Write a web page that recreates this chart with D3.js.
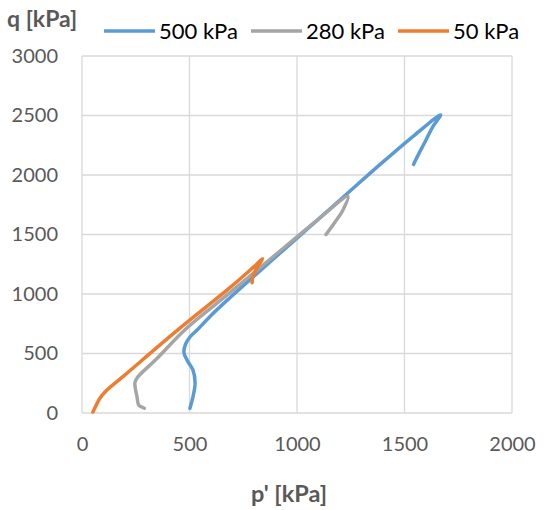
<!DOCTYPE html>
<html><head><meta charset="utf-8">
<script src="https://cdn.jsdelivr.net/npm/d3@7"></script>
<style>body{margin:0;background:#fff}svg{display:block}text{font-family:Lato,"Open Sans",sans-serif}</style>
</head><body><svg id="c" width="547" height="510"></svg>
<script>
const seriesNames = ["500 kPa", "280 kPa", "50 kPa"];
const seriesColors = ["#5B9BD5", "#A5A5A5", "#ED7D31"];
const p500 = [502, 516, 526, 516, 490, 474, 482, 505, 540, 600, 688, 800, 1000, 1200, 1400, 1550, 1668, 1630, 1597, 1565, 1542];
const q500 = [40, 135, 253, 362, 440, 510, 580, 645, 705, 820, 969, 1150, 1470, 1790, 2110, 2340, 2505, 2401, 2283, 2173, 2089];
const p280 = [290, 278, 264, 256, 246, 256, 350, 479, 688, 900, 1100, 1237, 1212, 1177, 1135];
const q280 = [40, 50, 65, 135, 253, 295, 460, 700, 1011, 1330, 1630, 1820, 1700, 1605, 1500];
const p50 = [51, 84, 107, 200, 447, 688, 800, 840, 814, 795, 791];
const q50 = [8, 126, 177, 320, 700, 1053, 1230, 1295, 1222, 1146, 1095];
const xTicks = [0, 500, 1000, 1500, 2000];
const yTicks = [0, 500, 1000, 1500, 2000, 2500, 3000];

const svg = d3.select("#c");
const x = d3.scaleLinear().domain([0, 2000]).range([82, 512]);
const y = d3.scaleLinear().domain([0, 3000]).range([413, 56]);

svg.append("g").selectAll("line").data(yTicks).join("line")
  .attr("x1", x(0)).attr("x2", x(2000)).attr("y1", d => y(d)).attr("y2", d => y(d))
  .attr("stroke", "#D9D9D9").attr("stroke-width", 1.3);
svg.append("g").selectAll("line").data(xTicks).join("line")
  .attr("y1", y(0)).attr("y2", y(3000)).attr("x1", d => x(d)).attr("x2", d => x(d))
  .attr("stroke", "#D9D9D9").attr("stroke-width", 1.3);

const xa = svg.append("g").attr("transform", `translate(0,${y(0)})`)
  .call(d3.axisBottom(x).tickValues(xTicks).tickSize(0).tickPadding(24).tickFormat(d3.format("d")));
const ya = svg.append("g").attr("transform", `translate(${x(0)},0)`)
  .call(d3.axisLeft(y).tickValues(yTicks).tickSize(0).tickPadding(24).tickFormat(d3.format("d")));
[xa, ya].forEach(a => {
  a.select(".domain").remove();
  a.selectAll("text").attr("font-size", 20).attr("fill", "#595959").style("font-family", "Lato,'Open Sans',sans-serif");
});

const data = [[p500, q500], [p280, q280], [p50, q50]];
const line = d3.line().x(d => x(d[0])).y(d => y(d[1])).curve(d3.curveCatmullRom.alpha(0.5));
data.forEach((s, i) => {
  const pts = s[0].map((p, j) => [p, s[1][j]]);
  svg.append("path").attr("d", line(pts)).attr("fill", "none")
    .attr("stroke", seriesColors[i]).attr("stroke-width", 3.5)
    .attr("stroke-linecap", "round").attr("stroke-linejoin", "round");
});

svg.append("text").attr("x", 7).attr("y", 27).attr("font-size", 23).attr("font-weight", "bold")
  .attr("fill", "#595959").text("q [kPa]");
svg.append("text").attr("x", 289).attr("y", 502).attr("text-anchor", "middle").attr("font-size", 23.5)
  .attr("font-weight", "bold").attr("fill", "#595959").text("p' [kPa]");

const legX = [104, 251, 398];
seriesNames.forEach((n, i) => {
  svg.append("line").attr("x1", legX[i]).attr("x2", legX[i] + 51).attr("y1", 31).attr("y2", 31)
    .attr("stroke", seriesColors[i]).attr("stroke-width", 3.5);
  svg.append("text").attr("x", legX[i] + 55).attr("y", 38.5).attr("font-size", 22).attr("fill", "#000").text(n);
});
</script></body></html>
